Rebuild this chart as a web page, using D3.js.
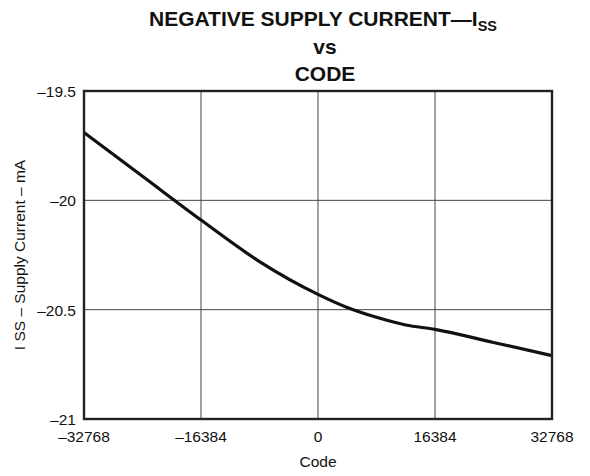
<!DOCTYPE html>
<html lang="en">
<head>
    <meta charset="UTF-8">
    <title>Negative Supply Current vs Code</title>
    <script src="https://d3js.org/d3.v7.min.js"></script>
    <style>
        body{
            margin: 0;
            background: #fff;
        }
        text{
            font-family: "Liberation Sans", Arial, sans-serif;
            fill: #111;
        }
    </style>
</head>
<body>
<svg id="canvas" width="590" height="476"></svg>

<script>
    // data
    const codes = [-32768, -24576, -16384, -8192, 0, 4096, 8192, 12288, 16384, 24576, 32768];
    const issValues = [-19.69, -19.89, -20.09, -20.28, -20.43, -20.49, -20.535, -20.57, -20.59, -20.65, -20.71];

    const xTicks = [-32768, -16384, 0, 16384, 32768];
    const yTicks = [-21, -20.5, -20, -19.5];
    const xTickLabels = ["\u201332768", "\u201316384", "0", "16384", "32768"];
    const yTickLabels = ["\u201321", "\u201320.5", "\u201320", "\u201319.5"];

    const svg = d3.select("#canvas");

    // plot box
    const plotLeft = 84, plotRight = 552, plotTop = 91, plotBottom = 419;

    const x = d3.scaleLinear().domain([-32768, 32768]).range([plotLeft, plotRight]);
    const y = d3.scaleLinear().domain([-21, -19.5]).range([plotBottom, plotTop]);

    // grid lines
    svg.append("g")
        .selectAll("line")
        .data(xTicks.slice(1, -1))
        .enter().append("line")
        .attr("x1", d => x(d)).attr("x2", d => x(d))
        .attr("y1", plotTop).attr("y2", plotBottom)
        .attr("stroke", "#444").attr("stroke-width", 1);

    svg.append("g")
        .selectAll("line")
        .data(yTicks.slice(1, -1))
        .enter().append("line")
        .attr("x1", plotLeft).attr("x2", plotRight)
        .attr("y1", d => y(d)).attr("y2", d => y(d))
        .attr("stroke", "#444").attr("stroke-width", 1);

    // the curve
    const line = d3.line()
        .x(d => x(d[0]))
        .y(d => y(d[1]))
        .curve(d3.curveMonotoneX);

    svg.append("path")
        .datum(codes.map((c, i) => [c, issValues[i]]))
        .attr("d", line)
        .attr("fill", "none")
        .attr("stroke", "#111")
        .attr("stroke-width", 3.2)
        .attr("stroke-linejoin", "round");

    // frame
    svg.append("rect")
        .attr("x", plotLeft).attr("y", plotTop)
        .attr("width", plotRight - plotLeft).attr("height", plotBottom - plotTop)
        .attr("fill", "none")
        .attr("stroke", "#222")
        .attr("stroke-width", 2.4);

    // tick labels
    svg.append("g")
        .selectAll("text")
        .data(xTicks)
        .enter().append("text")
        .attr("x", d => x(d))
        .attr("y", 442)
        .attr("text-anchor", "middle")
        .attr("font-size", "15.5px")
        .text((d, i) => xTickLabels[i]);

    svg.append("g")
        .selectAll("text")
        .data(yTicks)
        .enter().append("text")
        .attr("x", 76)
        .attr("y", d => y(d))
        .attr("dy", "0.38em")
        .attr("text-anchor", "end")
        .attr("font-size", "15.5px")
        .text((d, i) => yTickLabels[i]);

    // axis titles
    svg.append("text")
        .attr("x", (plotLeft + plotRight) / 2)
        .attr("y", 467)
        .attr("text-anchor", "middle")
        .attr("font-size", "15.5px")
        .text("Code");

    svg.append("text")
        .attr("transform", "translate(25," + (plotTop + plotBottom) / 2 + ") rotate(-90)")
        .attr("text-anchor", "middle")
        .attr("font-size", "15.5px")
        .text("I SS \u2013 Supply Current \u2013 mA");

    // chart title
    const title = svg.append("g")
        .attr("font-weight", "bold")
        .attr("font-size", "21px");

    const t1 = title.append("text")
        .attr("x", 323).attr("y", 26)
        .attr("text-anchor", "middle");
    t1.append("tspan").text("NEGATIVE SUPPLY CURRENT\u2014I");
    t1.append("tspan").attr("dy", 4.5).attr("font-size", "14.5px").text("SS");

    title.append("text")
        .attr("x", 325).attr("y", 54)
        .attr("text-anchor", "middle")
        .text("vs");

    title.append("text")
        .attr("x", 325).attr("y", 81)
        .attr("text-anchor", "middle")
        .text("CODE");
</script>
</body>
</html>
